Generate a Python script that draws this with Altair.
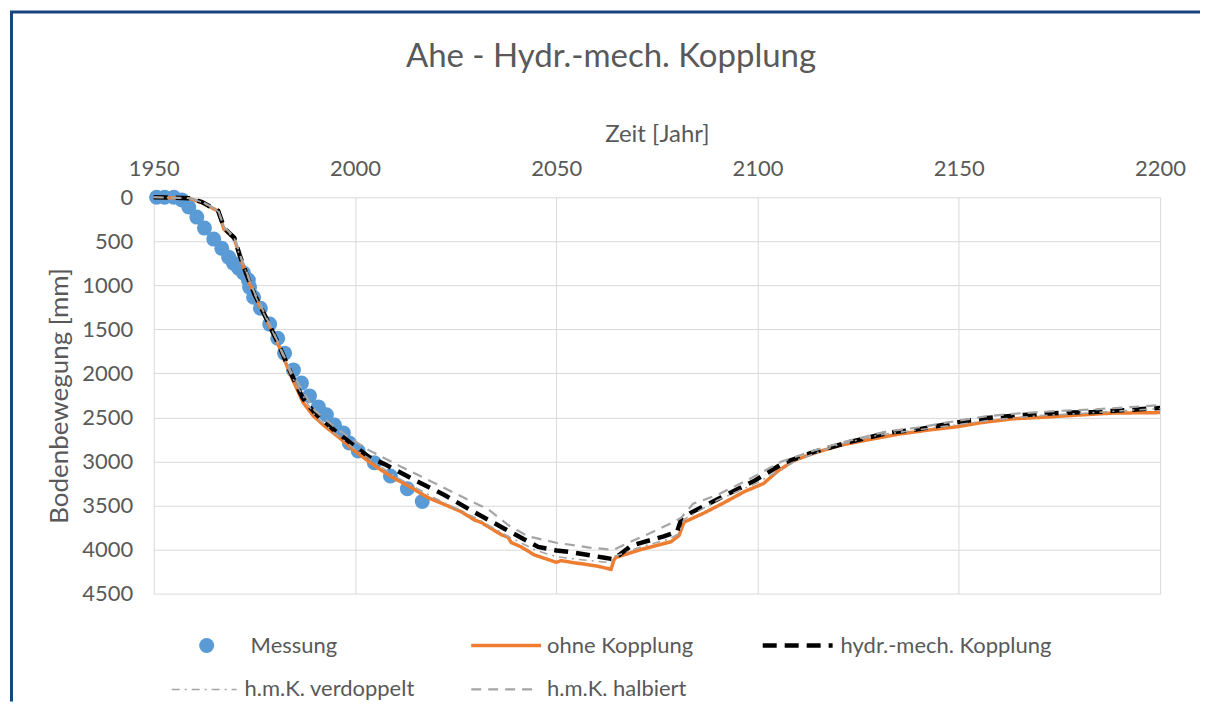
import altair as alt
import pandas as pd

# ---------------- data ----------------
titel = "Ahe - Hydr.-mech. Kopplung"
serien = ["Messung", "ohne Kopplung", "hydr.-mech. Kopplung",
          "h.m.K. verdoppelt", "h.m.K. halbiert"]

mess_jahr = [1950.7, 1952.7, 1955.0, 1957.0, 1958.7, 1960.7, 1962.6, 1964.9, 1966.9,
             1968.6, 1969.8, 1971.1, 1972.3, 1973.5, 1973.8, 1974.8, 1976.5, 1978.8,
             1980.8, 1982.5, 1984.7, 1986.7, 1988.7, 1990.9, 1992.9, 1994.9, 1997.1,
             1998.6, 2000.8, 2004.8, 2008.8, 2013.0, 2016.7]
mess_wert = [0, 0, 0, 30, 110, 225, 350, 475, 580, 680, 750, 805, 860, 940, 1020,
             1135, 1260, 1440, 1600, 1770, 1960, 2110, 2255, 2380, 2470, 2585, 2675,
             2790, 2880, 3015, 3165, 3310, 3455]

ohne_jahr = [1950, 1958.7, 1961.9, 1966.1, 1967.4, 1970.0, 1971.3, 1973.0, 1975.0,
             1978.0, 1981.0, 1984.2, 1987.1, 1989.6, 1992.5, 1995.8, 1999.9, 2004.9,
             2009.5, 2013.2, 2018.1, 2023.1, 2026.4, 2029.7, 2031.3, 2036.3, 2038.0,
             2038.8, 2041.3, 2044.5, 2050.0, 2051.2, 2054.4, 2056.9, 2060.4, 2063.6,
             2064.3, 2064.8, 2071.0, 2073.5, 2078.5, 2080.5, 2081.7, 2086.7, 2091.6,
             2096.6, 2101.5, 2105.0, 2109.0, 2114.0, 2120.6, 2127.3, 2135.0, 2143.0,
             2149.7, 2155.4, 2163.5, 2172.0, 2180.0, 2188.3, 2200.0]
ohne_wert = [0, 10, 60, 160, 360, 470, 660, 880, 1110, 1390, 1680, 2040, 2330, 2480,
             2600, 2718, 2880, 3050, 3185, 3275, 3410, 3505, 3570, 3665, 3690, 3830,
             3860, 3920, 3970, 4060, 4145, 4125, 4150, 4165, 4190, 4225, 4120, 4090,
             4000, 3970, 3912, 3840, 3690, 3585, 3470, 3345, 3250, 3110, 2990, 2905,
             2815, 2755, 2690, 2640, 2605, 2560, 2515, 2495, 2472, 2450, 2445]

hmk_jahr = [1950, 1958.7, 1962.0, 1966.0, 1967.5, 1970.0, 1971.3, 1973.0, 1975.0,
            1978.0, 1981.0, 1984.2, 1987.0, 1990.0, 1995.0, 2000.0, 2003.5, 2007.3,
            2014.7, 2022.2, 2029.6, 2037.0, 2045.5, 2050.0, 2053.0, 2062.0, 2064.3,
            2068.5, 2071.0, 2076.7, 2080.0, 2081.0, 2083.4, 2090.9, 2099.0, 2106.5,
            2114.0, 2123.0, 2132.3, 2140.5, 2148.7, 2157.0, 2166.0, 2175.2, 2183.4,
            2191.8, 2200.0]
hmk_wert = [0, 10, 55, 155, 350, 460, 650, 870, 1100, 1380, 1670, 2010, 2280, 2450,
            2650, 2830, 2950, 3030, 3209, 3380, 3575, 3760, 3970, 4010, 4025, 4093,
            4110, 3960, 3923, 3850, 3800, 3660, 3583, 3410, 3225, 3016, 2891, 2778,
            2676, 2630, 2562, 2506, 2472, 2449, 2438, 2415, 2392]

verd_jahr = [1950, 1958.7, 1962.0, 1966.0, 1967.5, 1970.0, 1971.3, 1975.0, 1980.0,
             1984.2, 1990.0, 1995.0, 2000.0, 2010.0, 2020.0, 2030.0, 2038.0, 2045.0,
             2050.0, 2055.0, 2063.6, 2064.3, 2071.0, 2078.0, 2080.5, 2081.7, 2090.0,
             2100.0, 2110.0, 2120.0, 2130.0, 2140.0, 2150.0, 2160.0, 2170.0, 2180.0,
             2190.0, 2200.0]
verd_wert = [0, 10, 57, 158, 355, 465, 655, 1100, 1570, 2030, 2480, 2680, 2860, 3170,
             3420, 3640, 3850, 4010, 4080, 4110, 4150, 4080, 3970, 3880, 3820, 3660,
             3440, 3240, 2980, 2810, 2700, 2640, 2580, 2520, 2480, 2455, 2425, 2400]

halb_jahr = [1950, 1958.7, 1962.0, 1966.0, 1967.5, 1970.0, 1971.3, 1975.0, 1980.0,
             1984.0, 1990.0, 1995.0, 2000.0, 2003.3, 2011.5, 2019.7, 2028.1, 2033.0,
             2038.0, 2043.0, 2050.0, 2058.6, 2064.3, 2068.0, 2073.5, 2078.5, 2081.0,
             2084.0, 2090.0, 2097.6, 2106.0, 2114.0, 2123.0, 2132.0, 2140.5, 2148.7,
             2157.0, 2166.0, 2175.0, 2183.0, 2191.8, 2200.0]
halb_wert = [0, 10, 50, 150, 340, 450, 640, 1080, 1560, 1970, 2420, 2610, 2770, 2868,
             3061, 3243, 3435, 3540, 3720, 3850, 3923, 3980, 4002, 3920, 3810, 3700,
             3640, 3480, 3379, 3209, 3000, 2875, 2760, 2660, 2610, 2545, 2485, 2450,
             2425, 2410, 2385, 2360]

x_ticks = [1950, 2000, 2050, 2100, 2150, 2200]
y_ticks = [0, 500, 1000, 1500, 2000, 2500, 3000, 3500, 4000, 4500]

# ---------------- styling ----------------
FONT = "Lato"
TXT = "#595959"
GRID = "#D9D9D9"
FRAME = "#17457F"
W, H = 1008, 397

stil = {
    "Messung": dict(color="#5B9BD5"),
    "ohne Kopplung": dict(color="#ED7D31", strokeWidth=3.5, strokeDash=[1, 0]),
    "hydr.-mech. Kopplung": dict(color="#000000", strokeWidth=4.5, strokeDash=[14, 8]),
    "h.m.K. verdoppelt": dict(color="#A5A5A5", strokeWidth=1.6, strokeDash=[8, 5, 2, 5]),
    "h.m.K. halbiert": dict(color="#A5A5A5", strokeWidth=2.2, strokeDash=[10, 7]),
}

x_scale = alt.Scale(domain=[1950, 2200], nice=False, zero=False)
y_scale = alt.Scale(domain=[0, 4500], nice=False, reverse=True)

x_axis = alt.Axis(orient="top", values=x_ticks, format="d", title="Zeit [Jahr]",
                  labelPadding=22, labelBaseline="alphabetic", labelFlush=False,
                  titleY=-63, titleBaseline="middle")
y_axis = alt.Axis(values=y_ticks, format="d", title="Bodenbewegung [mm]",
                  labelPadding=21, titleX=-94, titleY=H / 2, titleAngle=270,
                  titleBaseline="middle", titleAlign="center", titleFontSize=26)

enc = dict(x=alt.X("Jahr:Q", scale=x_scale, axis=x_axis),
           y=alt.Y("Wert:Q", scale=y_scale, axis=y_axis))

df_mess = pd.DataFrame({"Jahr": mess_jahr, "Wert": mess_wert})
punkte = alt.Chart(df_mess).mark_circle(size=225, opacity=1,
                                        color=stil["Messung"]["color"]).encode(**enc)

linien = []
for name, jahr, wert in [("ohne Kopplung", ohne_jahr, ohne_wert),
                         ("hydr.-mech. Kopplung", hmk_jahr, hmk_wert),
                         ("h.m.K. verdoppelt", verd_jahr, verd_wert),
                         ("h.m.K. halbiert", halb_jahr, halb_wert)]:
    d = pd.DataFrame({"Jahr": jahr, "Wert": wert})
    s = stil[name]
    linien.append(alt.Chart(d).mark_line(color=s["color"], strokeWidth=s["strokeWidth"],
                                         strokeDash=s["strokeDash"]).encode(**enc))

# ---------------- legend (Excel-like, two rows, three columns) ----------------
LEG_ROW_Y = [449, 493]
leg_layout = {
    "Messung": dict(row=0, x1=53, x2=None, tx=97),
    "ohne Kopplung": dict(row=0, x1=318, x2=388, tx=394),
    "hydr.-mech. Kopplung": dict(row=0, x1=610, x2=680, tx=688),
    "h.m.K. verdoppelt": dict(row=1, x1=18, x2=83, tx=91),
    "h.m.K. halbiert": dict(row=1, x1=318, x2=383, tx=394),
}
legende = []
for name in serien:
    lay = leg_layout[name]
    s = stil[name]
    yy = LEG_ROW_Y[lay["row"]]
    d = pd.DataFrame({"Serie": [name]})
    if lay["x2"] is None:
        legende.append(alt.Chart(d).mark_circle(size=225, opacity=1, color=s["color"])
                       .encode(x=alt.value(lay["x1"]), y=alt.value(yy)))
    else:
        legende.append(alt.Chart(d).mark_rule(color=s["color"], strokeWidth=s["strokeWidth"],
                                              strokeDash=s["strokeDash"])
                       .encode(x=alt.value(lay["x1"]), x2=alt.value(lay["x2"]), y=alt.value(yy)))
    legende.append(alt.Chart(d).mark_text(align="left", baseline="middle", font=FONT,
                                          fontSize=22, color=TXT)
                   .encode(x=alt.value(lay["tx"]), y=alt.value(yy), text="Serie:N"))

# ---------------- chart title (placed as Excel does, centred on the chart area) ----------------
titel_mark = alt.Chart(pd.DataFrame({"t": [titel]})).mark_text(
    align="center", baseline="alphabetic", font=FONT, fontSize=33, color=TXT
).encode(x=alt.value(458), y=alt.value(-130), text="t:N")

# ---------------- chart frame (dark blue border of the Excel chart) ----------------
fd = pd.DataFrame({"k": [0]})
rahmen_oben = alt.Chart(fd).mark_rule(color=FRAME, strokeWidth=3).encode(
    x=alt.value(-144), x2=alt.value(1048), y=alt.value(-185.5))
rahmen_links = alt.Chart(fd).mark_rule(color=FRAME, strokeWidth=3).encode(
    x=alt.value(-142.5), y=alt.value(-185.5), y2=alt.value(505))

chart = alt.layer(punkte, *linien, *legende, titel_mark, rahmen_oben, rahmen_links).properties(
    width=W, height=H,
    padding={"left": 0, "top": 2, "right": 0, "bottom": 0},
).configure_axis(
    labelFont=FONT, labelFontSize=22, labelColor=TXT,
    titleFont=FONT, titleFontSize=24, titleFontWeight="normal", titleColor=TXT,
    grid=True, gridColor=GRID, gridWidth=1, domain=False, ticks=False,
).configure_view(stroke=None)

chart.save("out.html", embed_options={"renderer": "svg", "actions": False})
